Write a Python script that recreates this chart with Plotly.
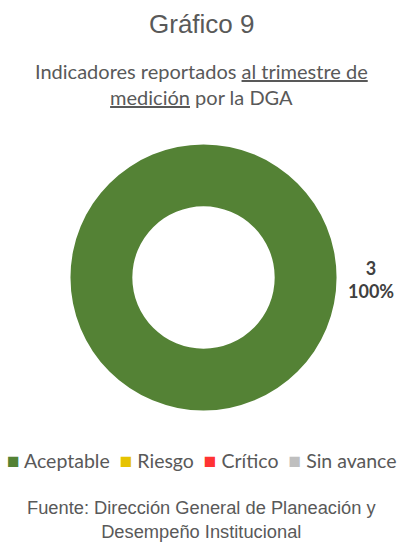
import plotly.graph_objects as go

categories = ["Aceptable", "Riesgo", "Crítico", "Sin avance"]
values = [3, 0, 0, 0]
colors = ["#548235", "#E6C300", "#FF3333", "#BFBFBF"]

total = sum(values)
pct = round(100 * values[0] / total)

fig = go.Figure()
fig.add_trace(go.Pie(
    labels=categories,
    values=values,
    hole=0.535,
    sort=False,
    direction="clockwise",
    marker=dict(colors=colors, line=dict(width=0)),
    textinfo="none",
    hoverinfo="label+value+percent",
    domain=dict(x=[0.175, 0.835], y=[0.2454, 0.7344]),
    showlegend=False,
))

gray = "#595959"
NB = "\u00a0"
legend_text = (NB * 2).join(
    f'<span style="color:{c};font-size:21px">■</span>{NB}{lab}'
    for lab, c in zip(categories, colors)
)

annotations = [
    dict(text="Gráfico 9", x=0.5, y=1 - 23.5 / 544, xref="paper", yref="paper",
         showarrow=False, font=dict(family="Liberation Sans, Arial", size=26, color=gray),
         xanchor="center", yanchor="middle"),
    dict(text="Indicadores reportados <u>al trimestre de</u><br><u>medición</u> por la DGA",
         x=0.5, y=1 - 84 / 544, xref="paper", yref="paper",
         showarrow=False, font=dict(family="Lato, Noto Sans", size=20, color=gray),
         xanchor="center", yanchor="middle"),
    dict(text=f"<b>{values[0]}<br>{pct}%</b>", x=371 / 403, y=1 - 279 / 544, xref="paper", yref="paper",
         showarrow=False, font=dict(family="Lato, Noto Sans", size=18, color="#404040"),
         xanchor="center", yanchor="middle"),
    dict(text=legend_text, x=0.5, y=1 - 459 / 544, xref="paper", yref="paper",
         showarrow=False, font=dict(family="Lato, Noto Sans", size=19.5, color=gray),
         xanchor="center", yanchor="middle"),
    dict(text="Fuente: Dirección General de Planeación y<br>Desempeño Institucional",
         x=0.5, y=1 - 519 / 544, xref="paper", yref="paper",
         showarrow=False, font=dict(family="Liberation Sans, Arial", size=18.3, color=gray),
         xanchor="center", yanchor="middle"),
]

fig.update_layout(
    width=403, height=544,
    margin=dict(l=0, r=0, t=0, b=0),
    paper_bgcolor="white", plot_bgcolor="white",
    annotations=annotations,
    showlegend=False,
)

fig.write_html(
    "out.html",
    config={"displayModeBar": False},
    post_script="document.body.style.margin='0';document.body.style.padding='0';",
)
